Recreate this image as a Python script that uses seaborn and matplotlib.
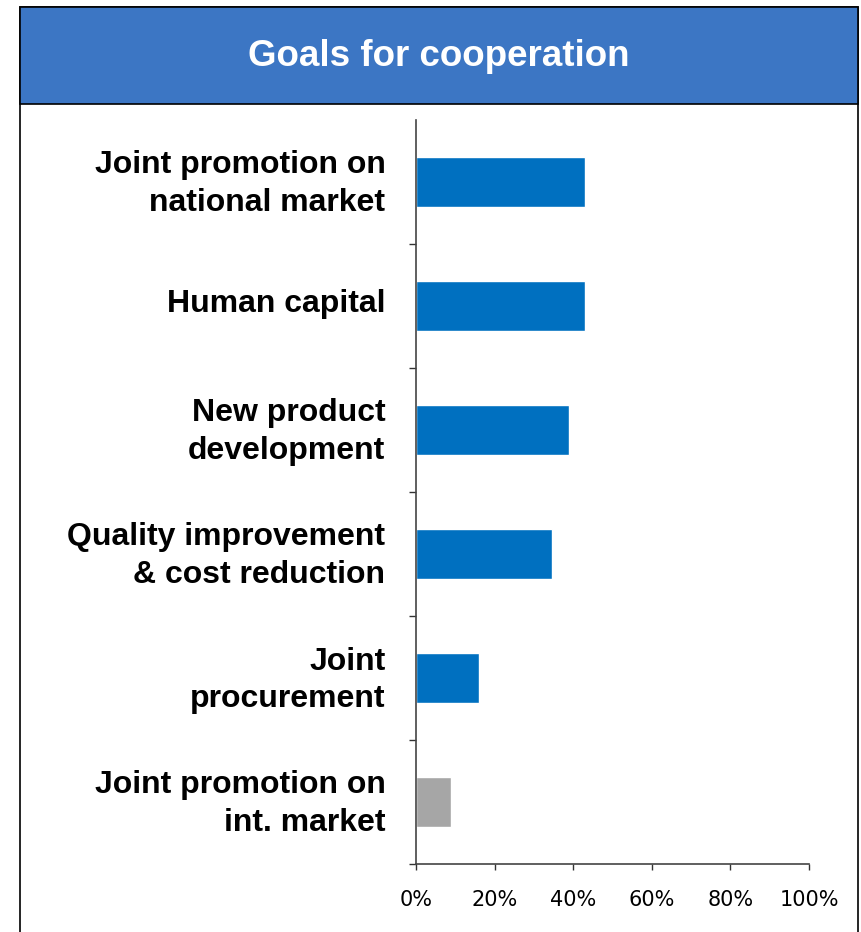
import matplotlib
matplotlib.use('Agg')
import matplotlib.pyplot as plt
import matplotlib.transforms as mtransforms
import seaborn as sns
import pandas as pd
from matplotlib.patches import Rectangle

# ---- data ----
categories = ["Joint promotion on\nnational market", "Human capital", "New product\ndevelopment",
              "Quality improvement\n& cost reduction", "Joint\nprocurement", "Joint promotion on\nint. market"]
values = [43, 43, 39, 34.5, 16, 9]
bar_colors = ["#0070C0", "#0070C0", "#0070C0", "#0070C0", "#0070C0", "#A6A6A6"]
x_ticks = [0, 20, 40, 60, 80, 100]
x_tick_labels = ["0%", "20%", "40%", "60%", "80%", "100%"]
title = "Goals for cooperation"

sns.set_theme(style="white")
plt.rcParams['font.family'] = ['Liberation Sans', 'DejaVu Sans']

W, H = 861, 932
fig = plt.figure(figsize=(W / 100, H / 100), dpi=100)
fig.patch.set_facecolor('white')

# outer frame and title band
fig.add_artist(Rectangle((20 / W, -0.01), (858 - 20) / W, 1 - 7 / H + 0.01, transform=fig.transFigure,
                         fill=False, edgecolor='black', lw=1.2))
fig.add_artist(Rectangle((20 / W, 1 - 104 / H), (858 - 20) / W, 97 / H, transform=fig.transFigure,
                         facecolor='#3C76C4', edgecolor='black', lw=1.2))
fig.text(439 / W, 1 - 56 / H, title, ha='center', va='center', color='white',
         fontsize=26.5, fontweight='bold')

ax = fig.add_axes([416 / W, 1 - 864 / H, (809 - 416) / W, (864 - 120) / H])
df = pd.DataFrame({"goal": categories, "share": values})
sns.barplot(data=df, x="share", y="goal", hue="goal", palette=bar_colors, legend=False,
            width=0.41, saturation=1, orient='h', ax=ax)

ax.set_xlim(0, 100)
ax.set_ylim(5.5, -0.5)
ax.set_xlabel('')
ax.set_ylabel('')
ax.set_xticks(x_ticks)
ax.set_xticklabels(x_tick_labels, fontsize=15, color='black', family=['DejaVu Sans'])
ax.set_yticks(range(len(categories)))
ax.set_yticklabels(categories, fontsize=23, fontweight='bold', color='black', linespacing=1.32)
ax.set_yticks([0.5, 1.5, 2.5, 3.5, 4.5, 5.5], minor=True)
ax.tick_params(axis='y', which='major', length=0, pad=22, left=False)
ax.tick_params(axis='y', which='minor', length=5, width=1, color='#333333', direction='out', left=True)
ax.tick_params(axis='x', which='major', length=4, width=1, color='#333333', direction='out', bottom=True, pad=15)
for s in ['top', 'right']:
    ax.spines[s].set_visible(False)
for s in ['left', 'bottom']:
    ax.spines[s].set_color('#444444')
    ax.spines[s].set_linewidth(1.2)
ax.set_facecolor('white')

# nudge category labels slightly upward
offset = mtransforms.ScaledTranslation(0, 5 / 100, fig.dpi_scale_trans)
for lbl in ax.get_yticklabels():
    lbl.set_transform(lbl.get_transform() + offset)

fig.savefig('out.png', dpi=100)
